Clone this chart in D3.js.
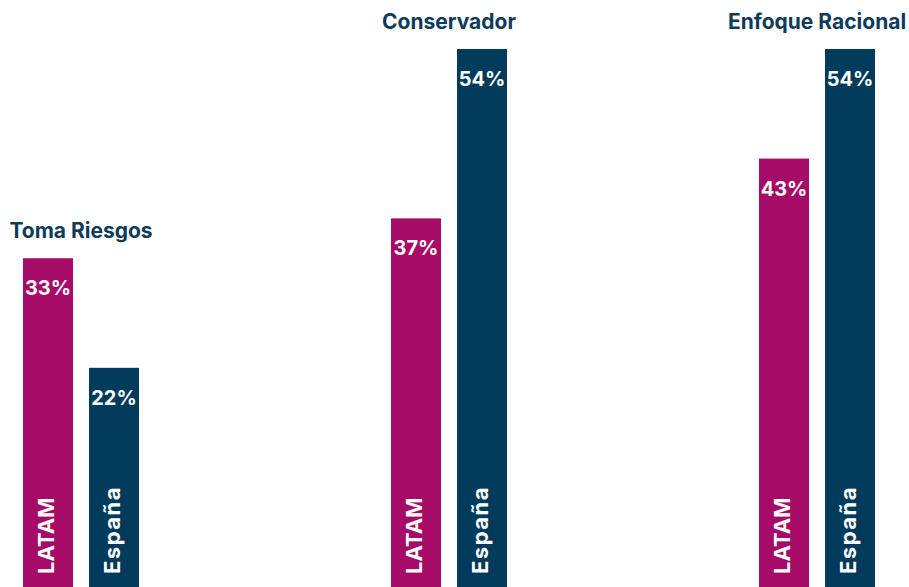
<!DOCTYPE html>
<html>
<head>
<meta charset="utf-8">
<script src="https://cdn.jsdelivr.net/npm/d3@7"></script>
<style>
  html, body { margin: 0; padding: 0; background: #ffffff; }
  svg { display: block; font-family: "Inter", "Roboto", sans-serif; }
</style>
</head>
<body>
<svg id="chart" width="909" height="587"></svg>
<script>
// Profiles compared between the two regions
const categories = ["Toma Riesgos", "Conservador", "Enfoque Racional"];
const series = ["LATAM", "España"];
const latamValues = [33, 37, 43];
const espanaValues = [22, 54, 54];
const valueLabels = ["33%", "22%", "37%", "54%", "43%", "54%"];

const colors = { "LATAM": "#A60B67", "España": "#003B5C" };
const titleColor = "#0E3A5B";

const W = 909, H = 587;
const svg = d3.select("#chart");

const rows = categories.map((c, i) => ({
  category: c,
  values: [
    { series: "LATAM", value: latamValues[i], label: valueLabels[i * 2] },
    { series: "España", value: espanaValues[i], label: valueLabels[i * 2 + 1] }
  ]
}));

// Group band: 116px wide, 368px step
const groupW = 116, groupStep = 368, left = 23;
const x0 = d3.scaleBand()
  .domain(categories)
  .range([left, left + groupStep * 2 + groupW])
  .paddingInner(1 - groupW / groupStep)
  .paddingOuter(0);

const x1 = d3.scaleBand()
  .domain(series)
  .range([0, x0.bandwidth()])
  .paddingInner(2 - groupW / 66)
  .paddingOuter(0);

const y = d3.scaleLinear().domain([0, 54]).range([H, 49]);

const g = svg.selectAll("g.group")
  .data(rows)
  .join("g")
  .attr("class", "group")
  .attr("transform", d => `translate(${x0(d.category)},0)`);

// Bars
g.selectAll("rect")
  .data(d => d.values)
  .join("rect")
  .attr("x", d => x1(d.series))
  .attr("y", d => y(d.value))
  .attr("width", x1.bandwidth())
  .attr("height", d => H - y(d.value))
  .attr("fill", d => colors[d.series]);

// Value labels inside the top of each bar
g.selectAll("text.value")
  .data(d => d.values)
  .join("text")
  .attr("class", "value")
  .attr("x", d => x1(d.series) + x1.bandwidth() / 2)
  .attr("y", d => y(d.value) + 37)
  .attr("text-anchor", "middle")
  .attr("fill", "#ffffff")
  .attr("font-weight", 700)
  .attr("font-size", 20)
  .text(d => d.label);

// Series names, rotated, at the foot of each bar
g.selectAll("text.series")
  .data(d => d.values)
  .join("text")
  .attr("class", "series")
  .attr("transform", d => `translate(${x1(d.series) + x1.bandwidth() / 2 + 6},${H - 13}) rotate(-90)`)
  .attr("text-anchor", "start")
  .attr("fill", "#ffffff")
  .attr("font-weight", 700)
  .attr("font-size", 22)
  .attr("letter-spacing", d => d.series === "España" ? 1.5 : 0)
  .text(d => d.series);

// Category titles above the taller bar of each group
g.append("text")
  .attr("class", "title")
  .attr("x", x0.bandwidth() / 2)
  .attr("y", d => y(d3.max(d.values, v => v.value)) - 20)
  .attr("text-anchor", "middle")
  .attr("fill", titleColor)
  .attr("font-weight", 700)
  .attr("font-size", 21)
  .text(d => d.category);
</script>
</body>
</html>
